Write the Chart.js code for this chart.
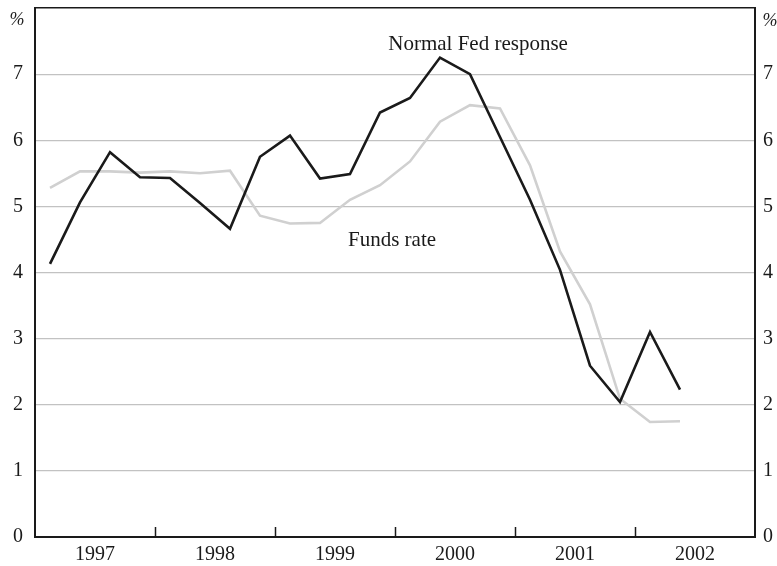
<!DOCTYPE html>
<html>
<head>
<meta charset="utf-8">
<title>Normal Fed response vs Funds rate</title>
<script src="https://cdn.jsdelivr.net/npm/chart.js@4/dist/chart.umd.min.js"></script>
<style>
    html, body { margin: 0; padding: 0; background: #fff; }
    #wrap { width: 777px; height: 566px; }
</style>
</head>
<body>
<div id="wrap"><canvas id="chart" width="777" height="566"></canvas></div>
<script>
// ── Data (quarterly, 1997 Q1 – 2002 Q2) ──────────────────
const years = ['1997', '1998', '1999', '2000', '2001', '2002'];
const quarters = [
    '1997Q1', '1997Q2', '1997Q3', '1997Q4',
    '1998Q1', '1998Q2', '1998Q3', '1998Q4',
    '1999Q1', '1999Q2', '1999Q3', '1999Q4',
    '2000Q1', '2000Q2', '2000Q3', '2000Q4',
    '2001Q1', '2001Q2', '2001Q3', '2001Q4',
    '2002Q1', '2002Q2'
];
const fedResponse = [
    4.13, 5.06, 5.82, 5.44, 5.43, 5.05, 4.66, 5.75, 6.07, 5.42, 5.49,
    6.42, 6.64, 7.25, 7.00, 6.05, 5.10, 4.04, 2.59, 2.04, 3.10, 2.23
];
const fundsRate = [
    5.28, 5.53, 5.53, 5.51, 5.53, 5.50, 5.54, 4.86, 4.74, 4.75, 5.10,
    5.32, 5.68, 6.28, 6.53, 6.48, 5.62, 4.32, 3.52, 2.09, 1.74, 1.75
];
const yTicks = [0, 1, 2, 3, 4, 5, 6, 7];

const SERIF = '"Liberation Serif", "DejaVu Serif", serif';

// quarter i sits in the middle of its slot on a 0..24 quarter axis
const toPoints = vals => vals.map((v, i) => ({ x: i + 0.5, y: v }));
const totalQuarters = years.length * 4;

// ── Extra drawing: year ticks, % marks, series labels ─────
const extras = {
    id: 'extras',
    afterDraw(chart) {
        const { ctx, scales: { x, y } } = chart;
        ctx.save();

        // short ticks at year boundaries, pointing up into the plot
        ctx.strokeStyle = '#1a1a1a';
        ctx.lineWidth = 1.5;
        for (let q = 4; q < totalQuarters; q += 4) {
            const px = Math.round(x.getPixelForValue(q)) + 0.5;
            ctx.beginPath();
            ctx.moveTo(px, y.bottom);
            ctx.lineTo(px, y.bottom - 10);
            ctx.stroke();
        }

        ctx.fillStyle = '#1a1a1a';
        ctx.textBaseline = 'middle';
        ctx.textAlign = 'center';

        // unit marks at the top of both axes
        ctx.font = 'italic 18px ' + SERIF;
        ctx.fillText('%', x.left - 18, y.top + 12);
        ctx.fillText('%', x.right + 15, y.top + 13);

        // series labels
        ctx.font = '21px ' + SERIF;
        ctx.fillText('Normal Fed response', x.getPixelForValue(14.77), y.getPixelForValue(7.45));
        ctx.fillText('Funds rate', x.getPixelForValue(11.9), y.getPixelForValue(4.48));

        ctx.restore();
    }
};

const gridColor = c => {
    const v = c.tick.value;
    if (v === 8) return '#1a1a1a';
    if (v === 0) return 'rgba(0,0,0,0)';
    return '#c2c2c2';
};

// fixed axis sizes so the plot box lands where the original sits
const fixY = w => s => {
    s.width = w;
    s.paddingTop = 0;
    s.paddingBottom = 0;
};

new Chart(document.getElementById('chart'), {
    type: 'line',
    data: {
        datasets: [
            {
                label: 'Funds rate',
                data: toPoints(fundsRate),
                borderColor: '#d0d0d0',
                borderWidth: 2.6,
                pointRadius: 0,
                tension: 0,
                order: 2
            },
            {
                label: 'Normal Fed response',
                data: toPoints(fedResponse),
                borderColor: '#1a1a1a',
                borderWidth: 2.6,
                pointRadius: 0,
                tension: 0,
                order: 1
            }
        ]
    },
    options: {
        responsive: false,
        animation: false,
        layout: { padding: { top: 8, left: 0, right: 0, bottom: 0 } },
        plugins: {
            legend: { display: false },
            tooltip: { enabled: false }
        },
        scales: {
            x: {
                type: 'linear',
                min: 0,
                max: totalQuarters,
                grid: { display: false, drawTicks: false },
                border: { display: true, color: '#1a1a1a', width: 2 },
                afterBuildTicks: s => {
                    s.ticks = years.map((_, i) => ({ value: i * 4 + 2 }));
                },
                ticks: {
                    autoSkip: false,
                    maxRotation: 0,
                    padding: 6,
                    color: '#1a1a1a',
                    font: { family: SERIF, size: 20 },
                    callback: v => years[(v - 2) / 4]
                },
                afterFit: s => {
                    s.height = 29;
                    s.paddingLeft = 0;
                    s.paddingRight = 0;
                }
            },
            y: {
                position: 'left',
                min: 0,
                max: 8,
                afterBuildTicks: s => {
                    s.ticks = yTicks.concat([8]).map(v => ({ value: v }));
                },
                grid: { color: gridColor, lineWidth: c => c.tick.value === 8 ? 1.5 : 1.2, drawTicks: false },
                border: { display: true, color: '#1a1a1a', width: 2 },
                ticks: {
                    padding: 12,
                    color: '#1a1a1a',
                    font: { family: SERIF, size: 20 },
                    callback: v => yTicks.includes(v) ? String(v) : ''
                },
                afterFit: fixY(35)
            },
            y2: {
                position: 'right',
                min: 0,
                max: 8,
                afterBuildTicks: s => {
                    s.ticks = yTicks.map(v => ({ value: v }));
                },
                grid: { display: false, drawTicks: false },
                border: { display: true, color: '#1a1a1a', width: 2 },
                ticks: {
                    padding: 8,
                    color: '#1a1a1a',
                    font: { family: SERIF, size: 20 },
                    callback: v => String(v)
                },
                afterFit: fixY(22)
            }
        }
    },
    plugins: [extras]
});
</script>
</body>
</html>
